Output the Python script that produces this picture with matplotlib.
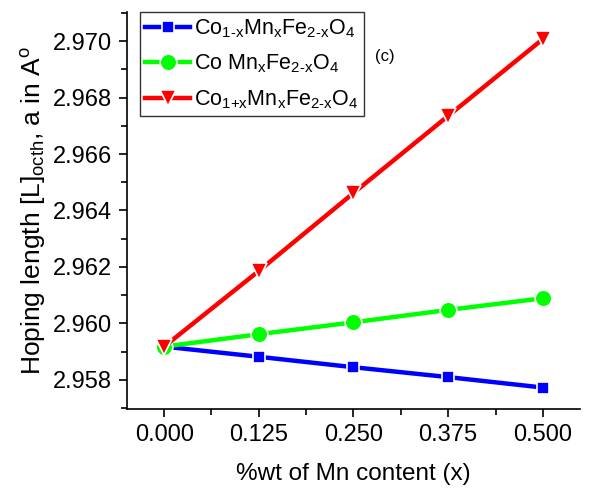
"""Hoping length [L]octh vs Mn content for three ferrite series (panel c)."""

import matplotlib

matplotlib.use("Agg")

import matplotlib.pyplot as plt
from matplotlib.ticker import MultipleLocator

plt.rcParams["font.family"] = ["Liberation Sans", "DejaVu Sans"]
plt.rcParams["mathtext.fontset"] = "custom"
plt.rcParams["mathtext.rm"] = "Liberation Sans"
plt.rcParams["mathtext.it"] = "Liberation Sans"
plt.rcParams["mathtext.default"] = "regular"

# データ
mn_content = [0.000, 0.125, 0.250, 0.375, 0.500]
co_1mx = [2.95918, 2.95882, 2.95845, 2.95810, 2.95773]
co_mn = [2.95918, 2.95962, 2.96004, 2.96048, 2.96089]
co_1px = [2.95918, 2.96186, 2.96462, 2.96735, 2.97007]

labels = [
    r"Co$_{1\text{-}x}$Mn$_x$Fe$_{2\text{-}x}$O$_4$",
    r"Co Mn$_x$Fe$_{2\text{-}x}$O$_4$",
    r"Co$_{1\text{+}x}$Mn$_x$Fe$_{2\text{-}x}$O$_4$",
]
x_ticks = [0.000, 0.125, 0.250, 0.375, 0.500]
x_ticklabels = ["0.000", "0.125", "0.250", "0.375", "0.500"]

fig = plt.figure(figsize=(5.93, 4.95), dpi=100)
ax = fig.add_axes([0.2142, 0.1737, 0.7638, 0.8021])

styles = [
    (co_1mx, "#0000ff", "s", 9),
    (co_mn, "#00ff00", "o", 12),
    (co_1px, "#ff0000", "v", 11),
]
for (y, c, m, ms), lab in zip(styles, labels):
    ax.plot(mn_content, y, color=c, lw=3.2, marker=m, ms=ms,
            mfc=c, mec="white", mew=1.2, label=lab)

ax.set_xlim(-0.049, 0.549)
ax.set_ylim(2.95697, 2.97103)
ax.set_xticks(x_ticks)
ax.set_xticklabels(x_ticklabels)
ax.xaxis.set_minor_locator(MultipleLocator(0.0625))
ax.yaxis.set_major_locator(MultipleLocator(0.002))
ax.yaxis.set_minor_locator(MultipleLocator(0.001))
ax.yaxis.set_major_formatter(plt.FormatStrFormatter("%.3f"))

ax.spines["top"].set_visible(False)
ax.spines["right"].set_visible(False)
for s in ("left", "bottom"):
    ax.spines[s].set_linewidth(1.2)
ax.tick_params(which="major", direction="out", length=6, width=1.2,
               labelsize=17, pad=5)
ax.tick_params(which="minor", direction="out", length=4, width=1.2)

ax.set_xlabel("%wt of Mn content (x)", fontsize=17.5, labelpad=12)
ax.set_ylabel(r"Hoping length [L]$_{octh}$, a in A$^{o}$", fontsize=19,
              labelpad=3)

ax.text(0.548, 0.887, "(c)", transform=ax.transAxes, fontsize=12,
        va="center")

leg = ax.legend(loc="upper left", fontsize=15.5, frameon=True, fancybox=False,
                edgecolor="black", handlelength=2.1, handletextpad=0.15,
                borderpad=0.25, labelspacing=0.6, borderaxespad=0.0,
                bbox_to_anchor=(0.028, 1.0))
leg.get_frame().set_linewidth(1.0)

fig.savefig("out.png", dpi=100)
